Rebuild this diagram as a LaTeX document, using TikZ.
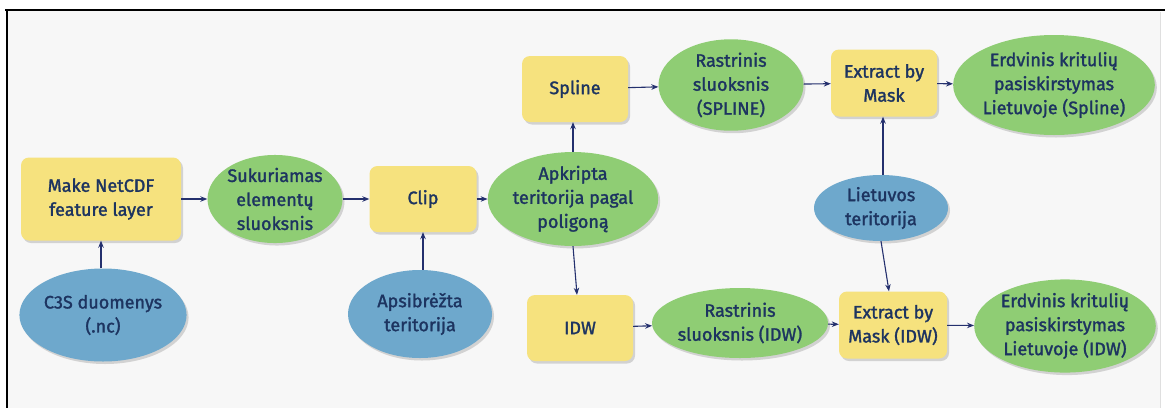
\documentclass[tikz,border=0pt]{standalone}
\usepackage{fontspec}
\setmainfont{Fira Sans}
\newfontfamily\nodefont{Fira Sans}[FakeBold=1.6]
\usetikzlibrary{shapes.geometric,arrows.meta,shadows}
\definecolor{bgpanel}{HTML}{F7F7F7}
\definecolor{boxyellow}{HTML}{F6E27E}
\definecolor{ellgreen}{HTML}{8FCD74}
\definecolor{ellblue}{HTML}{6EA8CC}
\definecolor{txtnavy}{HTML}{1D3460}
\definecolor{arrnavy}{HTML}{24306E}
\tikzset{
  base/.style={font=\nodefont\fontsize{18}{24}\selectfont, text=txtnavy, align=center, inner sep=0pt,
    drop shadow={shadow xshift=2pt, shadow yshift=-2.5pt, opacity=0.25, fill=black!60}},
  tool/.style={base, rectangle, rounded corners=8pt, fill=boxyellow},
  data/.style={base, ellipse, fill=ellgreen},
  inputd/.style={base, ellipse, fill=ellblue},
  conn/.style={draw=arrnavy, line width=1.1pt, -{Stealth[length=7pt,width=5.5pt]}}
}
\begin{document}
\begin{tikzpicture}[x=1pt,y=-1pt]
\useasboundingbox (0,0) rectangle (1165,408);
\fill[white] (0,0) rectangle (1165,408);
\fill[bgpanel] (7,10) rectangle (1160,408);
\draw[gray!25, line width=0.8pt] (1160,12) -- (1160,408);
\draw[black, line width=2.2pt] (5,10) -- (1165,10);
\draw[black, line width=2.4pt] (7,9) -- (7,408);

% row middle
\node[tool, minimum width=160pt, minimum height=83pt] (make) at (101,199) {Make NetCDF\\feature layer};
\node[data, minimum width=135pt, minimum height=76pt] (suk) at (275,199) {Sukuriamas\\elementų\\sluoksnis};
\node[tool, minimum width=107pt, minimum height=66pt] (clip) at (423,199) {Clip};
\node[data, minimum width=147pt, minimum height=85pt] (apk) at (573,199) {Apkripta\\teritorija pagal\\poligoną};

% inputs
\node[inputd, minimum width=157pt, minimum height=93pt] (c3s) at (103,315) {C3S duomenys\\(.nc)};
\node[inputd, minimum width=144pt, minimum height=88pt] (aps) at (420,314) {Apsibrėžta\\teritorija};
\node[inputd, minimum width=134pt, minimum height=66pt] (lt) at (881,208) {Lietuvos\\teritorija};

% top row
\node[tool, minimum width=106pt, minimum height=66pt] (spline) at (575,89) {Spline};
\node[data, minimum width=145pt, minimum height=76pt] (rasts) at (731,85) {Rastrinis\\sluoksnis\\(SPLINE)};
\node[tool, minimum width=106pt, minimum height=67pt] (ebm) at (884,83) {Extract by\\Mask};
\node[data, minimum width=178pt, minimum height=100pt] (erds) at (1054,85) {Erdvinis kritulių\\pasiskirstymas\\Lietuvoje (Spline)};

% bottom row
\node[tool, minimum width=106pt, minimum height=66pt] (idw) at (580,328) {IDW};
\node[data, minimum width=141pt, minimum height=70pt] (rasti) at (740,323) {Rastrinis\\sluoksnis (IDW)};
\node[tool, minimum width=108pt, minimum height=67pt] (ebmi) at (893,325) {Extract by\\Mask (IDW)};
\node[data, minimum width=180pt, minimum height=87pt] (erdi) at (1065,326) {Erdvinis kritulių\\pasiskirstymas\\Lietuvoje (IDW)};

% connectors
\draw[conn] (c3s.north -| make.south) -- (make.south);
\draw[conn] (make) -- (suk);
\draw[conn] (suk) -- (clip);
\draw[conn] (aps.north -| clip.south) -- (clip.south);
\draw[conn] (clip) -- (apk);
\draw[conn] (apk.north) -- (spline.south -| apk.north);
\draw[conn] (apk.south) -- (idw.north -| 577,0);
\draw[conn] (spline) -- (rasts);
\draw[conn] (rasts) -- (ebm);
\draw[conn] (ebm) -- (erds);
\draw[conn] (lt.north -| 883,0) -- (ebm.south -| 883,0);
\draw[conn] (lt.south) -- (ebmi.north -| 889,0);
\draw[conn] (idw) -- (rasti);
\draw[conn] (rasti) -- (ebmi);
\draw[conn] (ebmi) -- (erdi);
\end{tikzpicture}
\end{document}
